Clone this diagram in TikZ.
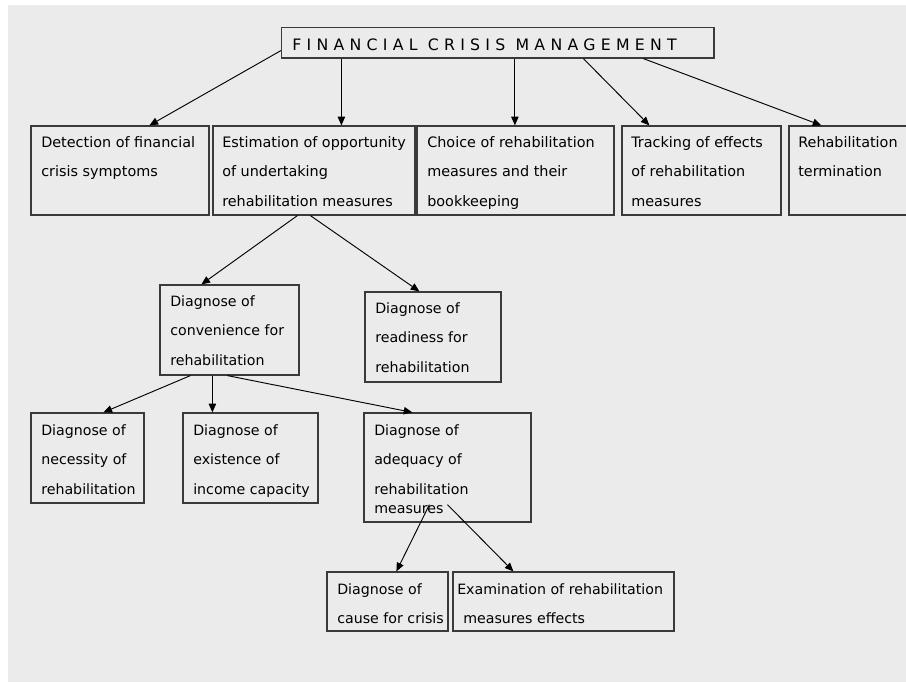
\documentclass[tikz,border=0pt]{standalone}
\usepackage{fontspec}
\setmainfont{DejaVu Sans}
\usetikzlibrary{arrows.meta,fit,calc}
\definecolor{bggray}{HTML}{EBEBEB}
\definecolor{edgecol}{HTML}{3A3A3A}
\begin{document}
\begin{tikzpicture}[x=0.75pt,y=-0.75pt,
  box/.style={draw=edgecol, line width=0.9pt, inner sep=0pt},
  toptxt/.style={anchor=north west, inner sep=0pt, align=left, font=\fontsize{10.8pt}{22.1pt}\selectfont},
  txt/.style={anchor=north west, inner sep=0pt, align=left, font=\fontsize{10.65pt}{22.1pt}\selectfont},
  titletxt/.style={anchor=base west, inner sep=0pt, font=\fontsize{11.8pt}{14pt}\selectfont\addfontfeature{LetterSpace=33.5}},
  conn/.style={draw=black, line width=0.7pt, -{Triangle[length=6.5pt,width=5.5pt]}},
]
\useasboundingbox (0,0) rectangle (906,682);
\fill[white] (0,0) rectangle (906,682);
\fill[bggray] (8,5) rectangle (906,682);

% top
\node[box, fit={(281.5,27.7) (714,58)}] (top) {};
\node[titletxt] (title) at (292,50) {FINANCIAL CRISIS MANAGEMENT};

% level 1
\node[box, fit={(31,126) (209,215)}] (b1) {};
\node[box, fit={(213,126) (415,215)}] (b2) {};
\node[box, fit={(417,126) (614,215)}] (b3) {};
\node[box, fit={(622,126) (781,215)}] (b4) {};
\node[box, fit={(789,126) (930,215)}] (b5) {};
\node[toptxt] (t1) at (41,136) {Detection of financial\\crisis symptoms};
\node[toptxt] (t2) at (222,136) {Estimation of opportunity\\of undertaking\\rehabilitation measures};
\node[toptxt] (t3) at (427,136) {Choice of rehabilitation\\measures and their\\bookkeeping};
\node[toptxt] (t4) at (631,136) {Tracking of effects\\of rehabilitation\\measures};
\node[toptxt] (t5) at (798,136) {Rehabilitation\\termination};

% level 2
\node[box, fit={(160,285) (299,375)}] (conv) {};
\node[box, fit={(365,292) (501,382)}] (ready) {};
\node[txt] (tconv) at (170,295.2) {Diagnose of\\convenience for\\rehabilitation};
\node[txt] (tready) at (375,302.2) {Diagnose of\\readiness for\\rehabilitation};

% level 3
\node[box, fit={(31,413) (144,503)}] (nec) {};
\node[box, fit={(183,413) (318,503)}] (exist) {};
\node[box, fit={(364,413) (531,522)}] (adeq) {};
\node[txt] (tnec) at (41,424.2) {Diagnose of\\necessity of\\rehabilitation};
\node[txt] (texist) at (193,424.2) {Diagnose of\\existence of\\income capacity};
\node[txt] (tadeq) at (374,424.2) {Diagnose of\\adequacy of\\rehabilitation\\[-7.9pt]measures};

% level 4
\node[box, fit={(327,572) (448,631)}] (cause) {};
\node[box, fit={(453,572) (674,631)}] (exam) {};
\node[txt] (tcause) at (337,583.2) {Diagnose of\\cause for crisis};
\node[txt] (texam) at (457,583.2) {Examination of rehabilitation\\\hspace{4.5pt}measures effects};

% connectors
\draw[conn] ($(top.south west)+(0,-8)$) -- ($(b1.north west)+(119,0)$);
\draw[conn] ($(top.south west)+(60.5,0)$) -- ($(b2.north west)+(129,0)$);
\draw[conn] ($(top.south west)+(234,0)$) -- ($(b3.north west)+(98.5,0)$);
\draw[conn] ($(top.south west)+(302.5,0)$) -- ($(b4.north west)+(28,0)$);
\draw[conn] ($(top.south west)+(362.5,0)$) -- ($(b5.north west)+(33,0)$);
\draw[conn] ($(b2.south west)+(85,0)$) -- ($(conv.north west)+(42,0)$);
\draw[conn] ($(b2.south west)+(98,0)$) -- ($(ready.north west)+(55,0)$);
\draw[conn] ($(conv.south west)+(31,0)$) -- ($(nec.north west)+(73,0)$);
\draw[conn] ($(conv.south west)+(53,0)$) -- ($(exist.north west)+(30,0)$);
\draw[conn] ($(conv.south west)+(68,0)$) -- ($(adeq.north west)+(49,0)$);
\draw[conn] ($(adeq.south west)+(66,-18)$) -- ($(cause.north west)+(70,0)$);
\draw[conn] ($(adeq.south west)+(84,-18)$) -- ($(exam.north west)+(61,0)$);
\end{tikzpicture}
\end{document}
